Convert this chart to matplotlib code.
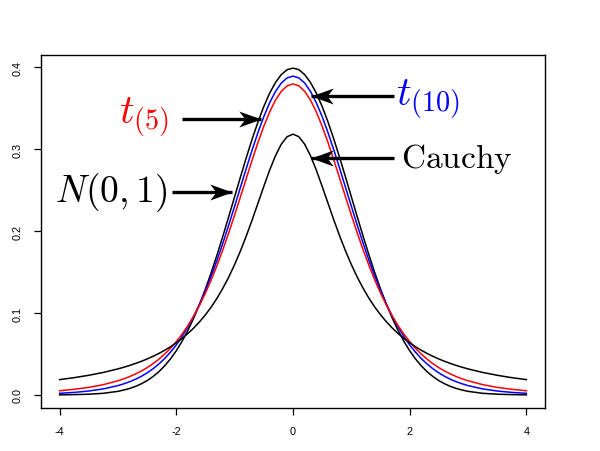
import matplotlib
matplotlib.use('Agg')
import matplotlib.pyplot as plt
from matplotlib.path import Path

# x grid and density values for each curve
x = [-4.0, -3.75, -3.5, -3.25,
     -3.0, -2.9, -2.8, -2.7, -2.6, -2.5, -2.4, -2.3, -2.2, -2.1,
     -2.0, -1.9, -1.8, -1.7, -1.6, -1.5, -1.4, -1.3, -1.2, -1.1,
     -1.0, -0.9, -0.8, -0.7, -0.6, -0.5, -0.4, -0.3, -0.2, -0.1,
     0.0, 0.1, 0.2, 0.3, 0.4, 0.5, 0.6, 0.7, 0.8, 0.9,
     1.0, 1.1, 1.2, 1.3, 1.4, 1.5, 1.6, 1.7, 1.8, 1.9,
     2.0, 2.1, 2.2, 2.3, 2.4, 2.5, 2.6, 2.7, 2.8, 2.9,
     3.0, 3.25, 3.5, 3.75, 4.0]

normal = [0.0001, 0.0004, 0.0009, 0.0020,
          0.0044, 0.0060, 0.0079, 0.0104, 0.0136, 0.0175, 0.0224, 0.0283, 0.0355, 0.0440,
          0.0540, 0.0656, 0.0790, 0.0940, 0.1109, 0.1295, 0.1497, 0.1714, 0.1942, 0.2179,
          0.2420, 0.2661, 0.2897, 0.3123, 0.3332, 0.3521, 0.3683, 0.3814, 0.3910, 0.3970,
          0.3989, 0.3970, 0.3910, 0.3814, 0.3683, 0.3521, 0.3332, 0.3123, 0.2897, 0.2661,
          0.2420, 0.2179, 0.1942, 0.1714, 0.1497, 0.1295, 0.1109, 0.0940, 0.0790, 0.0656,
          0.0540, 0.0440, 0.0355, 0.0283, 0.0224, 0.0175, 0.0136, 0.0104, 0.0079, 0.0060,
          0.0044, 0.0020, 0.0009, 0.0004, 0.0001]

t5 = [0.0051, 0.0069, 0.0092, 0.0126,
      0.0173, 0.0197, 0.0224, 0.0256, 0.0292, 0.0333, 0.0381, 0.0436, 0.0498, 0.0569,
      0.0651, 0.0743, 0.0848, 0.0966, 0.1098, 0.1245, 0.1407, 0.1585, 0.1777, 0.1981,
      0.2197, 0.2419, 0.2645, 0.2868, 0.3082, 0.3279, 0.3454, 0.3598, 0.3706, 0.3773,
      0.3796, 0.3773, 0.3706, 0.3598, 0.3454, 0.3279, 0.3082, 0.2868, 0.2645, 0.2419,
      0.2197, 0.1981, 0.1777, 0.1585, 0.1407, 0.1245, 0.1098, 0.0966, 0.0848, 0.0743,
      0.0651, 0.0569, 0.0498, 0.0436, 0.0381, 0.0333, 0.0292, 0.0256, 0.0224, 0.0197,
      0.0173, 0.0126, 0.0092, 0.0069, 0.0051]

t10 = [0.0020, 0.0031, 0.0048, 0.0074,
       0.0114, 0.0136, 0.0161, 0.0191, 0.0227, 0.0269, 0.0319, 0.0377, 0.0444, 0.0522,
       0.0611, 0.0714, 0.0831, 0.0963, 0.1111, 0.1275, 0.1454, 0.1648, 0.1857, 0.2076,
       0.2304, 0.2535, 0.2766, 0.2991, 0.3203, 0.3397, 0.3566, 0.3704, 0.3807, 0.3870,
       0.3891, 0.3870, 0.3807, 0.3704, 0.3566, 0.3397, 0.3203, 0.2991, 0.2766, 0.2535,
       0.2304, 0.2076, 0.1857, 0.1648, 0.1454, 0.1275, 0.1111, 0.0963, 0.0831, 0.0714,
       0.0611, 0.0522, 0.0444, 0.0377, 0.0319, 0.0269, 0.0227, 0.0191, 0.0161, 0.0136,
       0.0114, 0.0074, 0.0048, 0.0031, 0.0020]

cauchy = [0.0187, 0.0211, 0.0240, 0.0275,
          0.0318, 0.0338, 0.0360, 0.0384, 0.0410, 0.0439, 0.0471, 0.0506, 0.0545, 0.0588,
          0.0637, 0.0690, 0.0751, 0.0818, 0.0894, 0.0979, 0.1075, 0.1183, 0.1305, 0.1440,
          0.1592, 0.1759, 0.1941, 0.2136, 0.2341, 0.2546, 0.2744, 0.2920, 0.3061, 0.3152,
          0.3183, 0.3152, 0.3061, 0.2920, 0.2744, 0.2546, 0.2341, 0.2136, 0.1941, 0.1759,
          0.1592, 0.1440, 0.1305, 0.1183, 0.1075, 0.0979, 0.0894, 0.0818, 0.0751, 0.0690,
          0.0637, 0.0588, 0.0545, 0.0506, 0.0471, 0.0439, 0.0410, 0.0384, 0.0360, 0.0338,
          0.0318, 0.0275, 0.0240, 0.0211, 0.0187]

x_ticks = [-4, -2, 0, 2, 4]
y_ticks = [0.0, 0.1, 0.2, 0.3, 0.4]

plt.rcParams['mathtext.fontset'] = 'cm'
plt.rcParams['font.family'] = ['Liberation Sans', 'DejaVu Sans']

fig = plt.figure(figsize=(6, 4.52), dpi=100)
ax = fig.add_axes([0.0683, 0.0951, 0.84, 0.781])

ax.plot(x, normal, color='black', lw=1.1)
ax.plot(x, t10, color='blue', lw=1.1)
ax.plot(x, t5, color='red', lw=1.1)
ax.plot(x, cauchy, color='black', lw=1.1)

# R style limits (4% padding)
ax.set_xlim(-4.32, 4.32)
ax.set_ylim(-0.01596, 0.4149)
ax.set_xticks(x_ticks)
ax.set_xticklabels([str(v) for v in x_ticks])
ax.set_yticks(y_ticks)
ax.set_yticklabels(['%.1f' % v for v in y_ticks], rotation=90, va='center')
ax.tick_params(direction='out', length=5, width=0.9, labelsize=7.8, pad=8)
for s in ax.spines.values():
    s.set_linewidth(1.0)

# barbed arrow heads as markers (tip sits at the marker centre)
head_r = Path([(0, 0), (-1, 0.36), (-0.72, 0), (-1, -0.36), (0, 0)],
              [Path.MOVETO, Path.LINETO, Path.LINETO, Path.LINETO, Path.CLOSEPOLY])
head_l = Path([(0, 0), (1, 0.36), (0.72, 0), (1, -0.36), (0, 0)],
              [Path.MOVETO, Path.LINETO, Path.LINETO, Path.LINETO, Path.CLOSEPOLY])


def arrow(x0, x1, y, head):
    ax.plot([x0, x1], [y, y], color='black', lw=2.4, solid_capstyle='butt')
    ax.plot([x1], [y], marker=head, ms=32, color='black', mew=0)


arrow(1.74, 0.315, 0.365, head_l)
arrow(-1.91, -0.54, 0.337, head_r)
arrow(1.74, 0.315, 0.289, head_l)
arrow(-2.07, -1.04, 0.248, head_r)

ax.text(1.77, 0.355, r'$t_{(10)}$', color='blue', fontsize=29, ha='left', va='baseline')
ax.text(-2.12, 0.333, r'$t_{(5)}$', color='red', fontsize=29, ha='right', va='baseline')
ax.text(1.86, 0.278, r'$\mathrm{Cauchy}$', color='black', fontsize=24, ha='left', va='baseline')
ax.text(-2.15, 0.237, r'$N(0,1)$', color='black', fontsize=27, ha='right', va='baseline')

fig.savefig('out.png', dpi=100)
